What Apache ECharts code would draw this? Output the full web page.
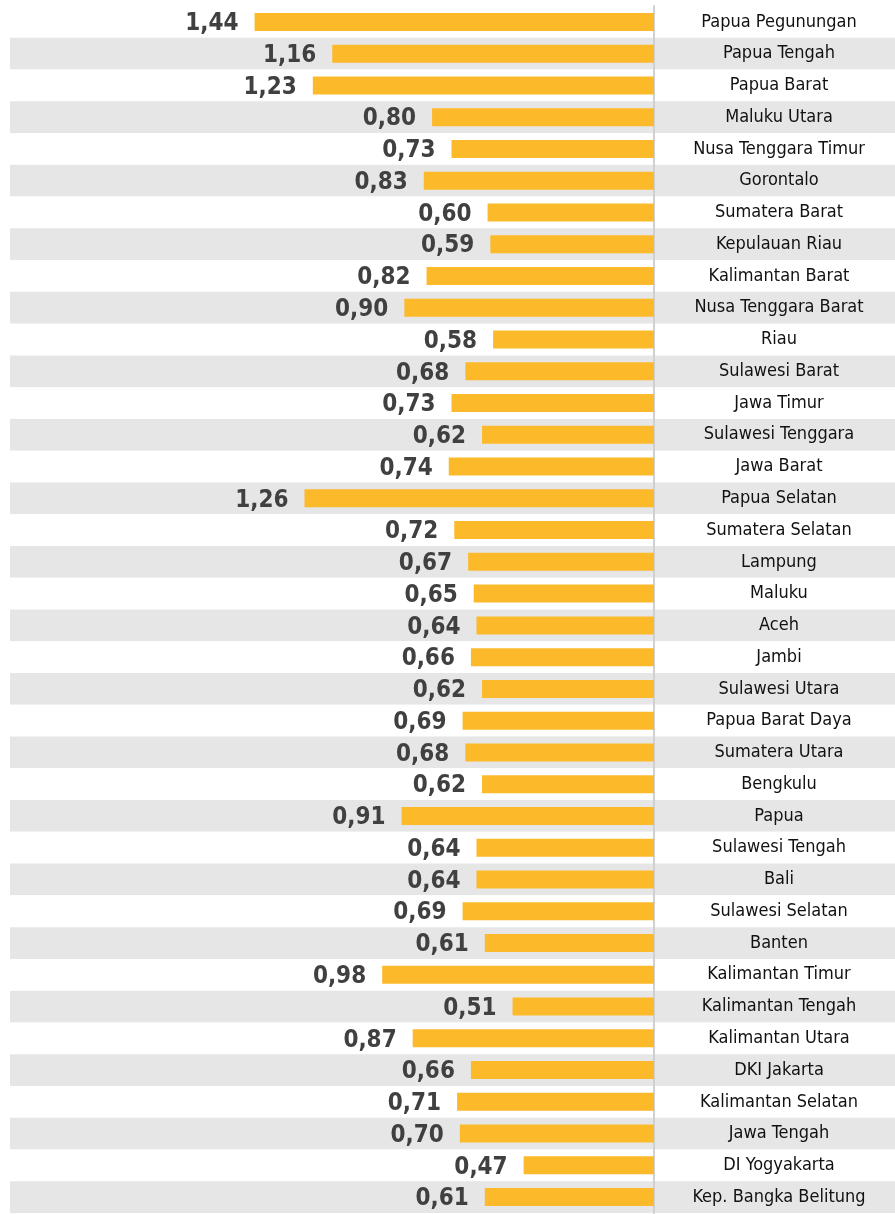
<!DOCTYPE html>
<html>
<head>
<meta charset="utf-8">
<script src="https://cdn.jsdelivr.net/npm/echarts@6/dist/echarts.min.js"></script>
<style>
  html, body { margin: 0; padding: 0; background: #fff; }
  #chart { width: 895px; height: 1214px; }
</style>
</head>
<body>
<div id="chart"></div>
<script>
const provinces = [
  'Papua Pegunungan', 'Papua Tengah', 'Papua Barat', 'Maluku Utara', 'Nusa Tenggara Timur',
  'Gorontalo', 'Sumatera Barat', 'Kepulauan Riau', 'Kalimantan Barat', 'Nusa Tenggara Barat',
  'Riau', 'Sulawesi Barat', 'Jawa Timur', 'Sulawesi Tenggara', 'Jawa Barat',
  'Papua Selatan', 'Sumatera Selatan', 'Lampung', 'Maluku', 'Aceh',
  'Jambi', 'Sulawesi Utara', 'Papua Barat Daya', 'Sumatera Utara', 'Bengkulu',
  'Papua', 'Sulawesi Tengah', 'Bali', 'Sulawesi Selatan', 'Banten',
  'Kalimantan Timur', 'Kalimantan Tengah', 'Kalimantan Utara', 'DKI Jakarta', 'Kalimantan Selatan',
  'Jawa Tengah', 'DI Yogyakarta', 'Kep. Bangka Belitung'
]

const values = [
  1.44, 1.16, 1.23, 0.80, 0.73,
  0.83, 0.60, 0.59, 0.82, 0.90,
  0.58, 0.68, 0.73, 0.62, 0.74,
  1.26, 0.72, 0.67, 0.65, 0.64,
  0.66, 0.62, 0.69, 0.68, 0.62,
  0.91, 0.64, 0.64, 0.69, 0.61,
  0.98, 0.51, 0.87, 0.66, 0.71,
  0.70, 0.47, 0.61
]

const narrow = '"DejaVu Sans Condensed", "Liberation Sans Narrow", "Arial Narrow", sans-serif'

const chart = echarts.init(document.getElementById('chart'))

chart.setOption({
  animation: false,
  grid: [
    // row bands, full width
    { left: 10, right: 0, top: 6, bottom: 1 },
    // bars
    { left: 16, right: 241, top: 6, bottom: 1 }
  ],
  xAxis: [
    { gridIndex: 0, type: 'value', show: false, min: 0, max: 1 },
    {
      gridIndex: 1,
      type: 'value',
      inverse: true,
      min: 0,
      max: 2.3,
      show: false
    }
  ],
  yAxis: [
    {
      gridIndex: 0,
      type: 'category',
      inverse: true,
      data: provinces,
      axisLine: { show: false },
      axisTick: { show: false },
      axisLabel: { show: false },
      splitLine: { show: false },
      splitArea: {
        show: true,
        areaStyle: { color: ['#ffffff', '#e6e6e6'] }
      }
    },
    {
      gridIndex: 1,
      type: 'category',
      inverse: true,
      position: 'right',
      data: provinces,
      axisLine: { lineStyle: { color: '#d0d0d0', width: 2 } },
      axisTick: { length: 9, lineStyle: { color: '#d0d0d0', width: 1.5 } },
      axisLabel: {
        align: 'center',
        margin: 125,
        color: '#111111',
        fontFamily: narrow,
        fontSize: 18
      }
    }
  ],
  series: [
    {
      type: 'bar',
      xAxisIndex: 1,
      yAxisIndex: 1,
      data: values,
      barWidth: 18,
      itemStyle: { color: '#FCB92A' },
      label: {
        show: true,
        position: 'left',
        distance: 16,
        color: '#404040',
        fontFamily: narrow,
        fontWeight: 'bold',
        fontSize: 24,
        offset: [0, 2],
        formatter: p => p.value.toFixed(2).replace('.', ',')
      }
    }
  ]
})
</script>
</body>
</html>
